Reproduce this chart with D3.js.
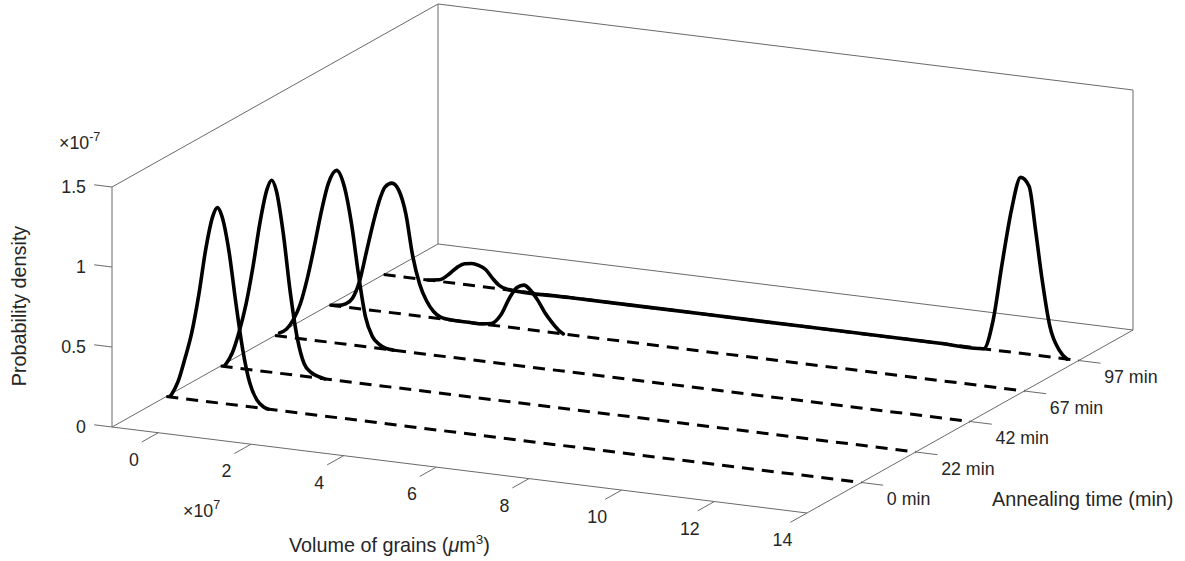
<!DOCTYPE html>
<html>
<head>
<meta charset="utf-8">
<script src="https://cdn.jsdelivr.net/npm/d3@7"></script>
<style>
  body { margin: 0; background: #fff; }
  text { font-family: "Liberation Sans", Arial, sans-serif; fill: #262626; }
</style>
</head>
<body>
<div id="chart"></div>
<script>
const w = 1185;
const h = 561;

// depth axis categories
const timeLabels = ["0 min", "22 min", "42 min", "67 min", "97 min"];
const timePos = [1, 2, 3, 4, 5];

// tick values (volume in 1e7 um^3, density in 1e-7)
const volTicks = [0, 2, 4, 6, 8, 10, 12, 14];
const pdfTicks = [0, 0.5, 1, 1.5];

// curves: volume (x1e7) and probability density (x1e-7)
const vol0 = [-0.9, -0.75, -0.6, -0.45, -0.3, -0.15, 0, 0.1, 0.2, 0.35, 0.5, 0.65, 0.8, 0.95, 1.1, 1.2];
const pdf0 = [0.01, 0.1, 0.25, 0.42, 0.66, 0.95, 1.16, 1.22, 1.17, 0.96, 0.64, 0.35, 0.15, 0.05, 0.01, 0];

const vol22 = [-0.9, -0.75, -0.6, -0.45, -0.3, -0.15, 0, 0.1, 0.2, 0.35, 0.5, 0.65, 0.8, 0.95, 1.1, 1.25];
const pdf22 = [0.01, 0.09, 0.23, 0.41, 0.65, 0.93, 1.14, 1.2, 1.14, 0.88, 0.52, 0.24, 0.08, 0.03, 0.01, 0];

const vol42 = [-0.9, -0.75, -0.6, -0.45, -0.3, -0.15, 0, 0.15, 0.33, 0.5, 0.65, 0.8, 0.95, 1.1, 1.25, 1.4, 1.55];
const pdf42 = [0.02, 0.05, 0.115, 0.22, 0.385, 0.59, 0.81, 0.99, 1.08, 0.98, 0.76, 0.45, 0.19, 0.07, 0.025, 0.005, 0];

const vol67 = [-0.95, -0.8, -0.65, -0.5, -0.35, -0.2, -0.05, 0.1, 0.2, 0.35, 0.5, 0.65, 0.8, 0.95, 1.1, 1.25, 1.4,
  1.7, 2.0, 2.3, 2.5, 2.7, 2.9, 3.05, 3.2, 3.35, 3.5, 3.65, 3.8, 3.95, 4.05];
const pdf67 = [0, 0.005, 0.02, 0.06, 0.17, 0.36, 0.55, 0.71, 0.78, 0.81, 0.77, 0.63, 0.37, 0.2, 0.1, 0.04, 0.01,
  0, 0, 0, 0.01, 0.07, 0.19, 0.255, 0.275, 0.245, 0.19, 0.12, 0.065, 0.02, 0];

const vol97 = [-0.05, 0.2, 0.4, 0.6, 0.75, 0.9, 1.05, 1.2, 1.35, 1.5, 1.65, 3, 5, 7, 9, 11, 11.95,
  12.15, 12.35, 12.55, 12.75, 12.93, 13.07, 13.2, 13.38, 13.58, 13.75];
const pdf97 = [0, 0.01, 0.05, 0.105, 0.13, 0.137, 0.13, 0.11, 0.06, 0.02, 0.005, 0, 0, 0, 0, 0, 0,
  0.18, 0.55, 0.89, 1.1, 1.05, 0.78, 0.5, 0.19, 0.05, 0];

const series = [
  { t: timePos[0], vol: vol0, pdf: pdf0 },
  { t: timePos[1], vol: vol22, pdf: pdf22 },
  { t: timePos[2], vol: vol42, pdf: pdf42 },
  { t: timePos[3], vol: vol67, pdf: pdf67 },
  { t: timePos[4], vol: vol97, pdf: pdf97 },
];

const svg = d3.select("#chart").append("svg").attr("width", w).attr("height", h);

// 3d axes -> unit cube
const x = d3.scaleLinear().domain([-1, 14]).range([0, 1]);
const y = d3.scaleLinear().domain([0, 6]).range([0, 1]);
const z = d3.scaleLinear().domain([0, 1.5]).range([0, 1]);

// screen vectors of the cube edges
const origin = [112, 427];
const ex = [695, 86];
const ey = [326, -183];
const ez = [0, -240];

function proj(a, b, c) {
  const u = x(a), v = y(b), s = z(c);
  return [
    origin[0] + u * ex[0] + v * ey[0] + s * ez[0],
    origin[1] + u * ex[1] + v * ey[1] + s * ez[1],
  ];
}

const [x0, x1] = x.domain();
const [y0, y1] = y.domain();
const [z0, z1] = z.domain();

// box edges that are visible
const edges = [
  [[x0, y0, z0], [x0, y0, z1]],
  [[x0, y0, z1], [x0, y1, z1]],
  [[x0, y1, z0], [x0, y1, z1]],
  [[x0, y1, z1], [x1, y1, z1]],
  [[x1, y1, z0], [x1, y1, z1]],
  [[x0, y1, z0], [x1, y1, z0]],
  [[x0, y0, z0], [x0, y1, z0]],
  [[x0, y0, z0], [x1, y0, z0]],
  [[x1, y0, z0], [x1, y1, z0]],
];

const axisColor = "#6a6a6a";

svg.append("g")
  .selectAll("line")
  .data(edges)
  .join("line")
  .attr("x1", (d) => proj(...d[0])[0])
  .attr("y1", (d) => proj(...d[0])[1])
  .attr("x2", (d) => proj(...d[1])[0])
  .attr("y2", (d) => proj(...d[1])[1])
  .attr("stroke", axisColor)
  .attr("stroke-width", 1);

function unit(v) {
  const l = Math.hypot(v[0], v[1]);
  return [v[0] / l, v[1] / l];
}
const dx = unit(ex), dy = unit(ey);

// z ticks (point toward -x)
const zt = svg.append("g");
zt.selectAll("line")
  .data(pdfTicks)
  .join("line")
  .attr("x1", (d) => proj(x0, y0, d)[0])
  .attr("y1", (d) => proj(x0, y0, d)[1])
  .attr("x2", (d) => proj(x0, y0, d)[0] - dx[0] * 18)
  .attr("y2", (d) => proj(x0, y0, d)[1] - dx[1] * 18)
  .attr("stroke", axisColor);
zt.selectAll("text")
  .data(pdfTicks)
  .join("text")
  .attr("x", (d) => proj(x0, y0, d)[0] - 26)
  .attr("y", (d) => proj(x0, y0, d)[1])
  .attr("text-anchor", "end")
  .attr("dominant-baseline", "central")
  .attr("font-size", 17.8)
  .text((d) => d);

// x ticks (point toward -y)
const xt = svg.append("g");
xt.selectAll("line")
  .data(volTicks)
  .join("line")
  .attr("x1", (d) => proj(d, y0, 0)[0])
  .attr("y1", (d) => proj(d, y0, 0)[1])
  .attr("x2", (d) => proj(d, y0, 0)[0] - dy[0] * 19)
  .attr("y2", (d) => proj(d, y0, 0)[1] - dy[1] * 19)
  .attr("stroke", axisColor);
xt.selectAll("text")
  .data(volTicks)
  .join("text")
  .attr("x", (d) => proj(d, y0, 0)[0] - 24.5)
  .attr("y", (d) => proj(d, y0, 0)[1] + 27)
  .attr("text-anchor", "middle")
  .attr("dominant-baseline", "central")
  .attr("font-size", 17.8)
  .text((d) => d);

// y ticks (point toward +x)
const yt = svg.append("g");
yt.selectAll("line")
  .data(timePos)
  .join("line")
  .attr("x1", (d) => proj(x1, d, 0)[0])
  .attr("y1", (d) => proj(x1, d, 0)[1])
  .attr("x2", (d) => proj(x1, d, 0)[0] + dx[0] * 22)
  .attr("y2", (d) => proj(x1, d, 0)[1] + dx[1] * 22)
  .attr("stroke", axisColor);
yt.selectAll("text")
  .data(timePos)
  .join("text")
  .attr("x", (d) => proj(x1, d, 0)[0] + 25.5)
  .attr("y", (d) => proj(x1, d, 0)[1] + 16.5)
  .attr("dominant-baseline", "central")
  .attr("font-size", 17.8)
  .text((d, i) => timeLabels[i]);

// curves, back to front, each over its dashed zero line
const line = d3.line().curve(d3.curveMonotoneX);
const curves = svg.append("g");
series.slice().reverse().forEach((s) => {
  curves.append("path")
    .attr("d", line([proj(x0, s.t, 0), proj(x1, s.t, 0)]))
    .attr("fill", "none")
    .attr("stroke", "#000")
    .attr("stroke-width", 3)
    .attr("stroke-dasharray", "12,8");
  curves.append("path")
    .attr("d", line(s.vol.map((v, i) => proj(v, s.t, s.pdf[i]))))
    .attr("fill", "none")
    .attr("stroke", "#000")
    .attr("stroke-width", 3.6)
    .attr("stroke-linejoin", "round")
    .attr("stroke-linecap", "round");
});

// exponents
const e7 = svg.append("text").attr("x", 59).attr("y", 149).attr("font-size", 17.8);
e7.append("tspan").text("\u00d710");
e7.append("tspan").attr("dy", -8).attr("font-size", 12.5).text("-7");

const e7x = svg.append("text").attr("x", 183).attr("y", 517).attr("font-size", 17.8);
e7x.append("tspan").text("\u00d710");
e7x.append("tspan").attr("dy", -8).attr("font-size", 12.5).text("7");

// axis labels
const xl = svg.append("text").attr("x", 289).attr("y", 552).attr("font-size", 19.8);
xl.append("tspan").text("Volume of grains (");
xl.append("tspan").attr("font-style", "italic").text("\u03bc");
xl.append("tspan").text("m");
xl.append("tspan").attr("dy", -8).attr("font-size", 13.5).text("3");
xl.append("tspan").attr("dy", 8).text(")");

svg.append("text")
  .attr("x", 992)
  .attr("y", 499)
  .attr("dominant-baseline", "central")
  .attr("font-size", 19.8)
  .text("Annealing time (min)");

svg.append("text")
  .attr("transform", "translate(19,306) rotate(-90)")
  .attr("text-anchor", "middle")
  .attr("dominant-baseline", "central")
  .attr("font-size", 19.8)
  .text("Probability density");
</script>
</body>
</html>
